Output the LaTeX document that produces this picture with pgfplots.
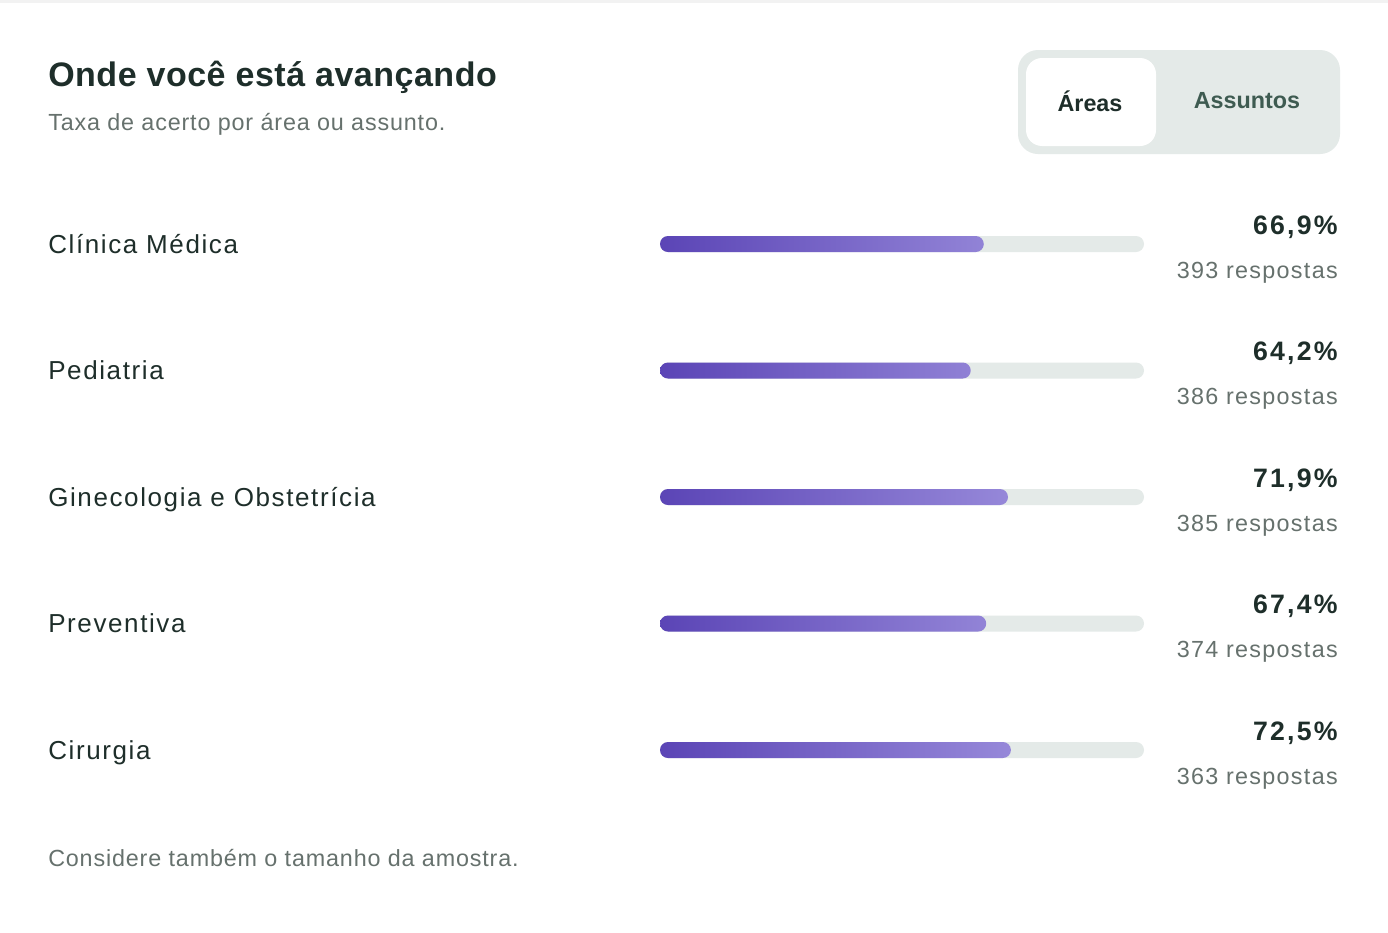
\documentclass[border=0pt]{standalone}
\usepackage{fontspec}
\setmainfont{Liberation Sans}
\newfontfamily\tls[LetterSpace=1.5]{Liberation Sans}
\newfontfamily\sls[LetterSpace=3.6]{Liberation Sans}
\newfontfamily\cls[LetterSpace=6.2]{Liberation Sans}
\newfontfamily\rls[LetterSpace=5.6]{Liberation Sans}
\newfontfamily\pls[LetterSpace=8.5]{Liberation Sans}
\usepackage{pgfplots}
\pgfplotsset{compat=1.18}
\definecolor{ink}{HTML}{1E2E2A}
\definecolor{subc}{HTML}{66716D}
\definecolor{track}{HTML}{E4EAE8}
\definecolor{barL}{HTML}{5B45B6}
\definecolor{barR}{HTML}{9688D9}
\definecolor{tog}{HTML}{3E5B51}
\begin{document}
\begin{tikzpicture}
\begin{scope}[x=0.75pt,y=-0.75pt]
\fill[white] (0,0) rectangle (1388,932);
\fill[black!5] (0,0) rectangle (1388,3);
\node[anchor=base west, inner sep=0pt, text=ink, font=\tls\fontsize{25.5}{30}\selectfont\bfseries] at (48,86) {Onde você está avançando};
\node[anchor=base west, inner sep=0pt, text=subc, font=\sls\fontsize{17.5}{21}\selectfont] at (48,130) {Taxa de acerto por área ou assunto.};
\fill[track, rounded corners=15pt] (1018,50) rectangle (1340,154);
\fill[white, rounded corners=12pt] (1026,58) rectangle (1156,146);
\node[inner sep=0pt, text=ink, font=\fontsize{17.5}{21}\selectfont\bfseries] at (1090,101) {Áreas};
\node[inner sep=0pt, text=tog, font=\fontsize{17.5}{21}\selectfont\bfseries] at (1247,101) {Assuntos};
\node[anchor=base west, inner sep=0pt, text=subc, font=\sls\fontsize{17.5}{21}\selectfont] at (48,866) {Considere também o tamanho da amostra.};
\end{scope}
\begin{axis}[at={(676.5pt,-372.75pt)}, anchor=center, scale only axis,
  width=363pt, height=474.375pt, xmin=0, xmax=100, ymin=0.5, ymax=5.5,
  y dir=reverse, axis lines=none, xbar, bar width=12pt, bar shift=0pt,
  clip=false]
\addplot[fill=track, draw=none, rounded corners=6pt] coordinates {(100,1) (100,2) (100,3) (100,4) (100,5)};
\addplot[draw=none, left color=barL, right color=barR, rounded corners=6pt] coordinates {(66.9,1) (64.2,2) (71.9,3) (67.4,4) (72.5,5)};
\foreach \r/\name/\pct/\n in {1/Clínica Médica/{66,9\%}/393, 2/Pediatria/{64,2\%}/386, 3/Ginecologia e Obstetrícia/{71,9\%}/385, 4/Preventiva/{67,4\%}/374, 5/Cirurgia/{72,5\%}/363}{
  \edef\temp{\noexpand\node[anchor=base west, inner sep=0pt, text=ink, font=\noexpand\cls\noexpand\fontsize{19.5}{23}\noexpand\selectfont, xshift=-459pt, yshift=-6.75pt] at (axis cs:0,\r) {\name};}
  \temp
  \edef\temp{\noexpand\node[anchor=base east, inner sep=0pt, text=ink, font=\noexpand\pls\noexpand\fontsize{20}{24}\noexpand\selectfont\noexpand\bfseries, xshift=145.5pt, yshift=7.5pt] at (axis cs:100,\r) {\pct};}
  \temp
  \edef\temp{\noexpand\node[anchor=base east, inner sep=0pt, text=subc, font=\noexpand\rls\noexpand\fontsize{17.5}{21}\noexpand\selectfont, xshift=145.5pt, yshift=-25.5pt] at (axis cs:100,\r) {\n\noexpand\ respostas};}
  \temp
}
\end{axis}
\end{tikzpicture}
\end{document}
